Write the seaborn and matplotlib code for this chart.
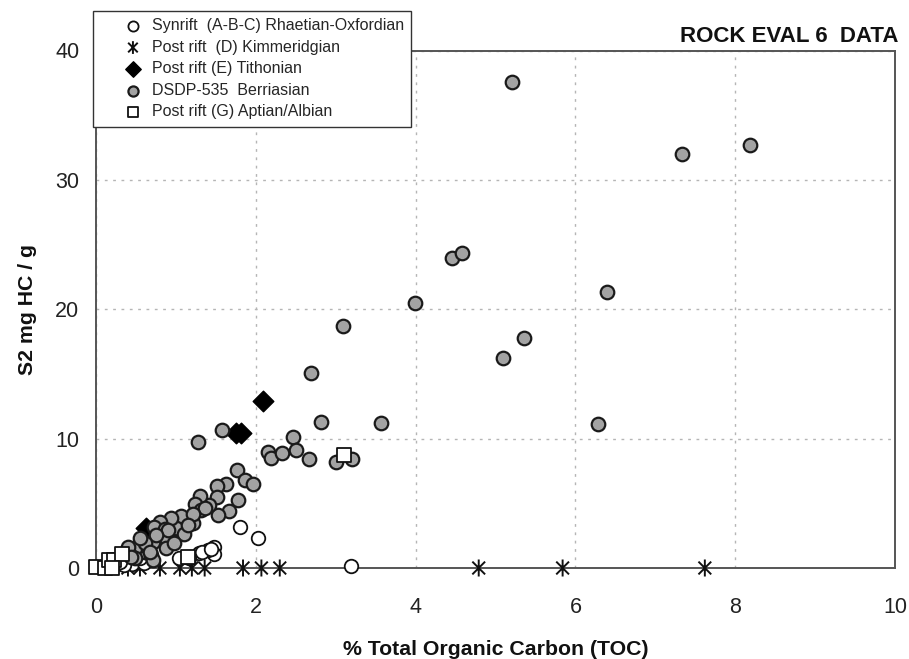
import numpy as np
import pandas as pd
import matplotlib
matplotlib.use("Agg")
import matplotlib.pyplot as plt
from matplotlib.path import Path
import seaborn as sns

# ---------------- data ----------------
synrift_toc = [3.19, 2.03, 1.80, 1.48, 1.48, 1.40, 1.29, 1.17, 1.04, 1.33, 1.44,
               0.50, 0.45, 0.35, 0.60, 0.30, 0.55]
synrift_s2 = [0.15, 2.29, 3.19, 1.60, 1.10, 1.39, 1.13, 0.75, 0.80, 1.26, 1.45,
              0.50, 0.30, 0.20, 0.40, 0.50, 0.80]

kimm_toc = [0.40, 0.55, 0.80, 1.05, 1.20, 1.36, 1.84, 2.07, 2.30, 4.79, 5.84, 7.62]
kimm_s2 = [0.0] * 12

tith_toc = [2.09, 1.75, 1.82, 0.63]
tith_s2 = [12.9, 10.45, 10.45, 3.07]

berr_toc = [5.21, 7.33, 8.18, 4.46, 4.58, 6.39, 3.99, 5.36, 5.09, 6.28, 3.09, 2.69,
            2.82, 3.57, 1.58, 1.28, 2.15, 2.19, 2.33, 2.47, 2.50, 2.66, 3.00, 3.21,
            1.77, 1.86, 1.96, 1.63, 1.52, 1.51, 1.78, 1.66, 1.53, 1.42, 1.30, 1.24,
            1.31, 1.21, 1.07, 1.00, 1.36, 1.21, 0.94, 0.80, 0.73, 0.86, 0.88, 0.88,
            0.71, 0.61, 0.57, 0.49, 0.42, 0.49, 0.69, 0.71, 0.90, 0.75, 0.40, 0.44,
            0.61, 0.67, 1.10, 0.98, 0.55, 1.15]
berr_s2 = [37.6, 32.0, 32.7, 24.0, 24.35, 21.3, 20.5, 17.8, 16.2, 11.1, 18.7, 15.1,
           11.3, 11.2, 10.7, 9.75, 9.0, 8.5, 8.9, 10.1, 9.1, 8.4, 8.2, 8.4,
           7.6, 6.8, 6.5, 6.5, 6.3, 5.5, 5.25, 4.4, 4.1, 4.86, 5.56, 4.94,
           4.48, 3.5, 4.04, 3.07, 4.6, 4.2, 3.84, 3.58, 3.19, 2.99, 2.29, 1.52,
           2.03, 1.26, 1.78, 1.52, 1.0, 0.75, 1.0, 0.62, 2.93, 2.55, 1.64, 0.87,
           1.9, 1.26, 2.6, 1.9, 2.3, 3.3]

apt_toc = [0.00, 0.11, 0.16, 0.23, 0.32, 0.20, 1.15, 3.11]
apt_s2 = [0.05, 0.0, 0.6, 0.6, 1.05, 0.0, 0.85, 8.7]

labels = ["Synrift  (A-B-C) Rhaetian-Oxfordian",
          "Post rift  (D) Kimmeridgian",
          "Post rift (E) Tithonian",
          "DSDP-535  Berriasian",
          "Post rift (G) Aptian/Albian"]

x_ticks = [0, 2, 4, 6, 8, 10]
y_ticks = [0, 10, 20, 30, 40]

# ---------------- styling ----------------
sns.set_theme(style="white")
plt.rcParams["font.family"] = ["Liberation Sans", "DejaVu Sans"]

fig = plt.figure(figsize=(9.09, 6.59), dpi=100)
ax = fig.add_axes([96 / 909, 1 - 568 / 659, (895 - 96) / 909, (568 - 50.5) / 659])

# custom asterisk marker: vertical bar + X
star = Path([(0, -1), (0, 1), (-0.75, -0.75), (0.75, 0.75), (-0.75, 0.75), (0.75, -0.75)],
            [Path.MOVETO, Path.LINETO, Path.MOVETO, Path.LINETO, Path.MOVETO, Path.LINETO])

df_k = pd.DataFrame({"toc": kimm_toc, "s2": kimm_s2})
df_s = pd.DataFrame({"toc": synrift_toc, "s2": synrift_s2})
df_t = pd.DataFrame({"toc": tith_toc, "s2": tith_s2})
df_b = pd.DataFrame({"toc": berr_toc, "s2": berr_s2})
df_a = pd.DataFrame({"toc": apt_toc, "s2": apt_s2})

sns.scatterplot(data=df_k, x="toc", y="s2", ax=ax, marker=star, s=150,
                facecolor="none", edgecolor="#111111", linewidth=1.4,
                clip_on=False, zorder=3, label=labels[1])
sns.scatterplot(data=df_s, x="toc", y="s2", ax=ax, marker="o", s=95,
                facecolor="white", edgecolor="#111111", linewidth=1.3,
                clip_on=False, zorder=4, label=labels[0])
sns.scatterplot(data=df_t, x="toc", y="s2", ax=ax, marker="D", s=110,
                facecolor="black", edgecolor="black", linewidth=1.0,
                clip_on=False, zorder=5, label=labels[2])
sns.scatterplot(data=df_b, x="toc", y="s2", ax=ax, marker="o", s=95,
                facecolor="#a3a3a3", edgecolor="#1a1a1a", linewidth=1.6,
                clip_on=False, zorder=6, label=labels[3])
sns.scatterplot(data=df_a, x="toc", y="s2", ax=ax, marker="s", s=95,
                facecolor="white", edgecolor="#111111", linewidth=1.3,
                clip_on=False, zorder=7, label=labels[4])

ax.set_xlim(0, 10)
ax.set_ylim(0, 40)
ax.set_xticks(x_ticks)
ax.set_yticks(y_ticks)
ax.tick_params(axis="both", labelsize=15.5, labelcolor="#222222", length=5, width=1,
               direction="out", color="#999999")
ax.tick_params(axis="y", pad=7)
ax.tick_params(axis="x", pad=16)
ax.grid(True, color="#b5b5b5", linestyle=(0, (2, 4)), linewidth=1.0)
ax.set_axisbelow(True)
for sp in ax.spines.values():
    sp.set_visible(True)
    sp.set_color("#555555")
    sp.set_linewidth(1.4)

ax.set_xlabel("% Total Organic Carbon (TOC)", fontsize=15.3, fontweight="bold",
              color="#111111", labelpad=16)
ax.set_ylabel("S2 mg HC / g", fontsize=15.3, fontweight="bold",
              color="#111111", labelpad=13)

fig.text(898 / 909, 1 - 37 / 659, "ROCK EVAL 6  DATA", ha="right", va="center",
         fontsize=16, fontweight="bold", color="#111111")

# legend in the reference order
handles, labs = ax.get_legend_handles_labels()
order = [labs.index(l) for l in labels]
leg = ax.legend([handles[i] for i in order], [labs[i] for i in order],
                loc="upper left", bbox_to_anchor=(93 / 909, 1 - 11 / 659),
                bbox_transform=fig.transFigure, fontsize=11.5, markerscale=0.75,
                frameon=True, fancybox=False, edgecolor="#333333",
                framealpha=1, labelspacing=0.41, handletextpad=-0.86,
                borderpad=0.45, handlelength=4.1, borderaxespad=0)
leg.get_frame().set_linewidth(1.0)
leg.set_zorder(20)

fig.savefig("out.png", dpi=100)
